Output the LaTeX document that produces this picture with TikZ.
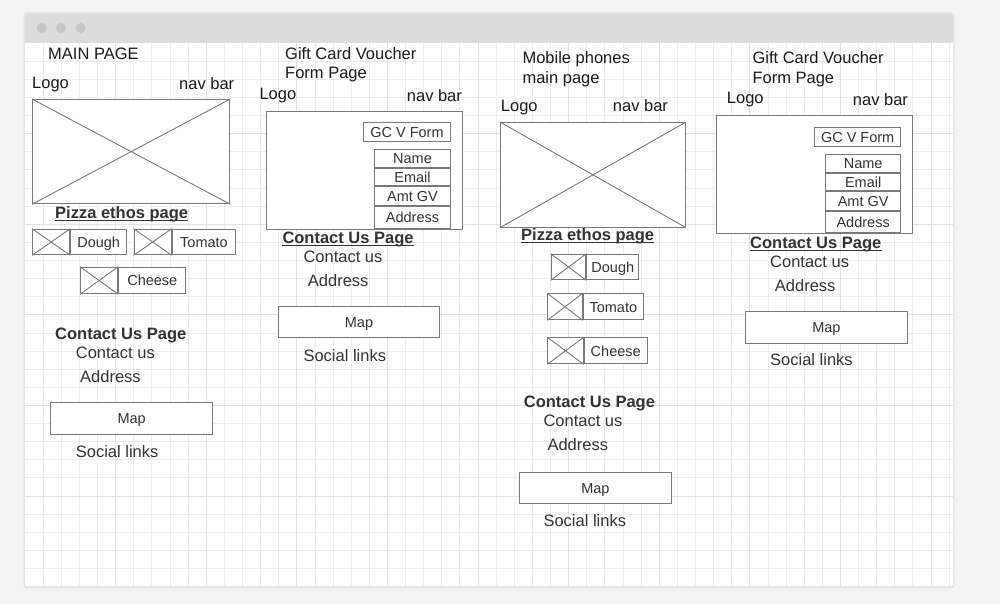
\documentclass[tikz,border=0pt]{standalone}
\usepackage{fontspec}
\setmainfont{Liberation Sans}
\definecolor{bgout}{HTML}{F3F3F3}
\definecolor{shad}{HTML}{E4E4E4}
\definecolor{bar}{HTML}{DCDCDC}
\definecolor{dotc}{HTML}{C6C6C6}
\definecolor{gmin}{HTML}{EDEDED}
\definecolor{gmaj}{HTML}{E3E3E3}
\definecolor{ln}{HTML}{7A7A7A}
\definecolor{tx}{HTML}{333333}
\definecolor{tk}{HTML}{1A1A1A}
\tikzset{
 lbl/.style={font=\fontsize{16.5}{19}\selectfont, text=tx, inner sep=0pt, anchor=base west},
 ttl/.style={lbl, text=tk},
 hdr/.style={lbl, font=\fontsize{16.5}{19}\selectfont\bfseries},
 sml/.style={font=\fontsize{14.5}{17}\selectfont, text=tx, text height=10.4pt, text depth=0pt},
 wbox/.style={draw=ln, line width=1pt, inner sep=0pt, anchor=north west, fill=white},
 lblbox/.style={wbox, sml},
 cross/.style={draw=ln, line width=0.9pt},
 uline/.style={draw=tx, line width=1.2pt},
}
\newcommand\myxitem[7]{%
 \node[wbox, minimum width=#4pt, minimum height=#6pt] (#1x) at (#2,#3) {};
 \draw[cross] (#1x.north west) -- (#1x.south east) (#1x.north east) -- (#1x.south west);
 \node[lblbox, minimum width=#5pt, minimum height=#6pt] (#1l) at (#1x.north east) {#7};
}
\newcommand\myhero[5]{%
 \node[wbox, minimum width=#4pt, minimum height=#5pt] (#1) at (#2,#3) {};
 \draw[cross] (#1.north west) -- (#1.south east) (#1.north east) -- (#1.south west);
}
\newcommand\myuline[1]{\draw[uline] ([yshift=-2.3pt]#1.base west) -- ([yshift=-2.3pt]#1.base east);}
\begin{document}
\begin{tikzpicture}[x=1pt,y=-1pt]
\useasboundingbox (0,0) rectangle (1000,604);
\fill[bgout] (0,0) rectangle (1000,604);
% window
\fill[shad, rounded corners=3pt] (23.5,12.5) rectangle (954.5,588.5);
\fill[white, rounded corners=3pt] (25,14) rectangle (953,587);
\begin{scope}
 \clip (25,43) rectangle (953,587);
 \foreach \k in {1,...,51} {
  \pgfmathsetmacro\gx{25+18.12*\k}
  \draw[gmin, line width=0.8pt] (\gx,43) -- (\gx,587);
 }
 \foreach \k in {1,...,30} {
  \pgfmathsetmacro\gy{43+18.12*\k}
  \draw[gmin, line width=0.8pt] (25,\gy) -- (953,\gy);
 }
 \foreach \k in {5,10,...,50} {
  \pgfmathsetmacro\gx{25+18.12*\k}
  \draw[gmaj, line width=0.9pt] (\gx,43) -- (\gx,587);
 }
 \foreach \k in {5,10,...,30} {
  \pgfmathsetmacro\gy{43+18.12*\k}
  \draw[gmaj, line width=0.9pt] (25,\gy) -- (953,\gy);
 }
\end{scope}
\fill[bar, rounded corners=3pt] (25,14) rectangle (953,43);
\fill[bar] (25,30) rectangle (953,43);
\foreach \dx in {41.7,61,80.7} {\fill[dotc] (\dx,28) circle (5pt);}

% ---------- column 1 ----------
\node[ttl] (t1) at (48,59.3) {MAIN PAGE};
\node[ttl] (logo1) at (32,88.3) {Logo};
\node[ttl] (nav1) at (179,89.3) {nav bar};
\myhero{hero1}{32}{99}{197.3}{104.3}
\node[hdr] (pz1) at (55,218.3) {Pizza ethos page};
\myuline{pz1}
\myxitem{dough1}{32}{228.7}{37.3}{55.7}{25.6}{Dough}
\myxitem{tomato1}{133.7}{228.7}{37}{63.6}{25.6}{Tomato}
\myxitem{cheese1}{80}{266.7}{37.3}{67}{26.6}{Cheese}
\node[hdr] (cp1) at (55,339.3) {Contact Us Page};
\node[lbl] (cu1) at (75.7,358.3) {Contact us};
\node[lbl] (ad1) at (80,382.3) {Address};
\node[lblbox, minimum width=162.3pt, minimum height=31.4pt] (map1) at (50,402.3) {Map};
\node[lbl] (so1) at (75.7,457.3) {Social links};

% ---------- column 2 ----------
\node[ttl] (g2a) at (285,59.3) {Gift Card Voucher};
\node[ttl] (g2b) at (285,78.3) {Form Page};
\node[ttl] (logo2) at (259.3,100) {Logo};
\node[ttl] (nav2) at (406.7,101.7) {nav bar};
\node[wbox, minimum width=196.3pt, minimum height=118pt] (fr2) at (265.7,110.7) {};
\node[lblbox, minimum width=86.4pt, minimum height=18.7pt] (gc2) at (363.3,122) {GC V Form};
\node[lblbox, minimum width=75.4pt, minimum height=18pt] (nm2) at (374.3,149.3) {Name};
\node[lblbox, minimum width=75.4pt, minimum height=16.7pt] (em2) at (nm2.south west) {Email};
\node[lblbox, minimum width=75.4pt, minimum height=19.3pt] (am2) at (em2.south west) {Amt GV};
\node[lblbox, minimum width=75.4pt, minimum height=21.7pt] (ar2) at (am2.south west) {Address};
\node[hdr] (cp2) at (282.3,243.3) {Contact Us Page};
\myuline{cp2}
\node[lbl] (cu2) at (303.3,262.3) {Contact us};
\node[lbl] (ad2) at (307.7,286.7) {Address};
\node[lblbox, minimum width=161.6pt, minimum height=30.7pt] (map2) at (277.7,306) {Map};
\node[lbl] (so2) at (303.3,361) {Social links};

% ---------- column 3 ----------
\node[ttl] (m3a) at (522.3,64) {Mobile phones};
\node[ttl] (m3b) at (522.3,83.3) {main page};
\node[ttl] (logo3) at (500.7,111.7) {Logo};
\node[ttl] (nav3) at (612.7,111.7) {nav bar};
\myhero{hero3}{500}{122}{185}{104.7}
\node[hdr] (pz3) at (521,240) {Pizza ethos page};
\myuline{pz3}
\myxitem{dough3}{550.7}{253.7}{34.6}{52}{25.6}{Dough}
\myxitem{tomato3}{547.3}{293.3}{34.4}{60.3}{26}{Tomato}
\myxitem{cheese3}{547.3}{337.3}{35.4}{63}{26}{Cheese}
\node[hdr] (cp3) at (523.7,407.3) {Contact Us Page};
\node[lbl] (cu3) at (543.3,426) {Contact us};
\node[lbl] (ad3) at (547.3,450.7) {Address};
\node[lblbox, minimum width=151.7pt, minimum height=31.6pt] (map3) at (519,471.7) {Map};
\node[lbl] (so3) at (543.3,526.7) {Social links};

% ---------- column 4 ----------
\node[ttl] (g4a) at (752.3,63.3) {Gift Card Voucher};
\node[ttl] (g4b) at (752.3,83.3) {Form Page};
\node[ttl] (logo4) at (726.7,104) {Logo};
\node[ttl] (nav4) at (852.7,106) {nav bar};
\node[wbox, minimum width=195.7pt, minimum height=118pt] (fr4) at (716.3,114.7) {};
\node[lblbox, minimum width=86.3pt, minimum height=18.7pt] (gc4) at (814,127) {GC V Form};
\node[lblbox, minimum width=75.3pt, minimum height=17.7pt] (nm4) at (825,154) {Name};
\node[lblbox, minimum width=75.3pt, minimum height=17.3pt] (em4) at (nm4.south west) {Email};
\node[lblbox, minimum width=75.3pt, minimum height=18.7pt] (am4) at (em4.south west) {Amt GV};
\node[lblbox, minimum width=75.3pt, minimum height=21.6pt] (ar4) at (am4.south west) {Address};
\node[hdr] (cp4) at (750,248.3) {Contact Us Page};
\myuline{cp4}
\node[lbl] (cu4) at (770,267.3) {Contact us};
\node[lbl] (ad4) at (774.7,291.7) {Address};
\node[lblbox, minimum width=161.7pt, minimum height=32pt] (map4) at (745,310.7) {Map};
\node[lbl] (so4) at (770,365) {Social links};
\end{tikzpicture}
\end{document}
